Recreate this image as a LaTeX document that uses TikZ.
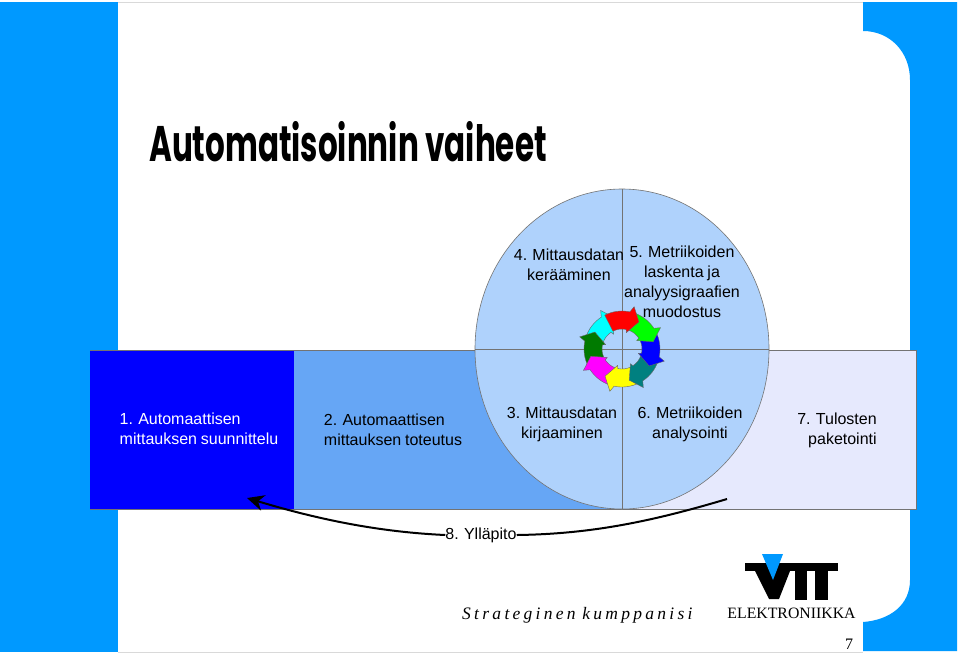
\documentclass[tikz,border=0pt]{standalone}
\usepackage{fontspec}
\setmainfont[WordSpace=0.85]{Liberation Sans}
\newfontfamily\serifname{Liberation Serif}
\newfontfamily\slogantype[WordSpace=0.75]{Liberation Serif}
\newfontfamily\titlename{Poppins}
\usetikzlibrary{arrows.meta}
\definecolor{bandblue}{HTML}{0099FF}
\definecolor{stepone}{HTML}{0000FF}
\definecolor{steptwo}{HTML}{66A6F5}
\definecolor{stepthree}{HTML}{E6E9FD}
\definecolor{wheelblue}{HTML}{AFD2FC}
\definecolor{ringcyan}{HTML}{00FFFF}
\definecolor{ringdark}{HTML}{007A00}
\definecolor{ringmagenta}{HTML}{FF00FF}
\definecolor{ringyellow}{HTML}{FFFF00}
\definecolor{ringteal}{HTML}{008080}
\definecolor{ringblue}{HTML}{0000FF}
\definecolor{ringgreen}{HTML}{00FF00}
\definecolor{ringred}{HTML}{FF0000}
\begin{document}
\begin{tikzpicture}[x=1pt,y=-1pt]

\tikzset{label/.style = {align=center,font=\fontsize{16}{20}\selectfont,inner sep=0pt}}
\tikzset{edge/.style = {line width=2pt,-{Stealth[length=17pt,width=16pt]}}}
\tikzset{plain/.style = {line width=2pt}}
\tikzset{rule/.style = {draw=black!55,line width=0.6pt}}
\tikzset{ringpart/.style = {draw=black!60,line width=0.4pt}}

\useasboundingbox (0,0) rectangle (960,657);

% page frame
\fill[white] (0,0) rectangle (960,657);
\draw[black!15,line width=0.8pt] (118,2) -- (863,2);
\draw[black!15,line width=0.8pt] (118,652) -- (863,652);
\fill[bandblue] (0,2) rectangle (118,652);
\fill[bandblue] (863,2) -- (957,2) -- (957,651) -- (863,651) -- (863,622)
  .. controls (890,620) and (910,605) .. (910,580) -- (910,80)
  .. controls (910,52) and (890,31) .. (863,31) -- cycle;

% title
\node[inner sep=0pt,anchor=west] (title) at (149,142)
  {\scalebox{0.62}[1]{\titlename\bfseries\fontsize{50}{52}\selectfont Automatisoinnin vaiheet}};

% steps
\fill[stepone] (90,350) rectangle (294,509);
\fill[steptwo] (294,350) rectangle (622,509);
\fill[stepthree] (622,350) rectangle (916,509);
\draw[rule] (90,350) -- (916,350) -- (916,509) -- (90,509);

% wheel
\draw[rule,fill=wheelblue] (622,349) ellipse (147 and 160);
\draw[rule] (622,189) -- (622,509);
\draw[rule] (475,349) -- (769,349);

% arrows of the wheel
\begin{scope}[shift={(622,349)},y=1pt]
\foreach \a/\c in {117/ringcyan,162/ringdark,207/ringmagenta,252/ringyellow,297/ringteal,342/ringblue,27/ringgreen,72/ringred}
  \draw[ringpart,fill=\c] (\a+45:38) arc[start angle=\a+45,end angle=\a+6,radius=38]
    -- (\a+2:44) -- (\a-14:32) -- (\a+3:17)
    -- (\a+6:20) arc[start angle=\a+6,end angle=\a+45,radius=20] -- cycle;
\end{scope}

% texts
\node[label,align=left,text=white] (s1) at (199,429) {1. Automaattisen\\mittauksen suunnittelu};
\node[label,align=left] (s2) at (393,429.5) {2. Automaattisen\\mittauksen toteutus};
\node[label] (s3) at (562,424) {3. Mittausdatan\\kirjaaminen};
\node[label] (s4) at (569,265) {4. Mittausdatan\\kerääminen};
\node[label] (s5) at (682,282) {5. Metriikoiden\\laskenta ja\\analyysigraafien\\muodostus};
\node[label] (s6) at (690,424) {6. Metriikoiden\\analysointi};
\node[label,align=right] (s7) at (837,430) {7. Tulosten\\paketointi};
\node[label] (s8) at (481,535) {8. Ylläpito};

% maintenance
\coordinate (backend) at (247,498);
\coordinate (frontend) at (727,499);
\draw[edge] (s8.west) .. controls (380,532) and (320,520) .. (backend);
\draw[plain] (s8.east) .. controls (590,534) and (650,522) .. (frontend);

% logo
\fill[black] (745,563) rectangle (838,571);
\fill[black] (795,571) rectangle (807,600);
\fill[black] (815,571) rectangle (828,600);
\fill[black] (755,571) -- (790,571) -- (779,599) -- (769,599) -- cycle;
\fill[bandblue] (762,554) -- (783,554) -- (773,580) -- cycle;
\node[inner sep=0pt] (unit) at (791.5,613) {\serifname\fontsize{15.8}{18}\selectfont ELEKTRONIIKKA};
\node[inner sep=0pt,anchor=west] (slogan) at (462,615)
  {\slogantype\itshape\fontsize{17.5}{18}\selectfont S t r a t e g i n e n\ \ k u m p p a n i s i};
\node[inner sep=0pt] (page) at (849,644) {\serifname\fontsize{16}{18}\selectfont 7};
\end{tikzpicture}
\end{document}
